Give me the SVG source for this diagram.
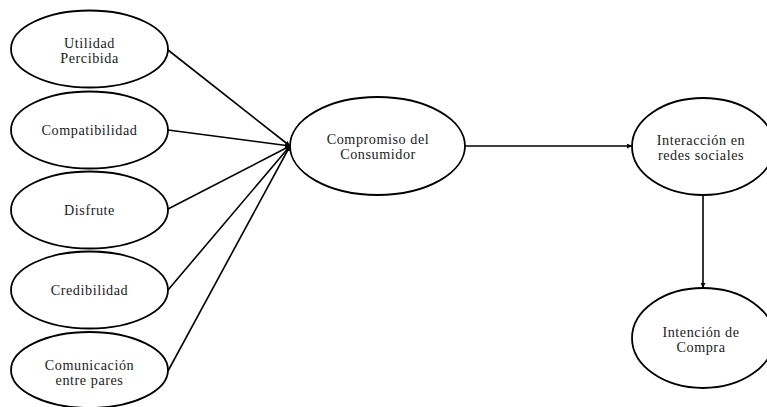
<svg xmlns="http://www.w3.org/2000/svg" width="767" height="407" viewBox="0 0 767 407">
<style>
ellipse.e{fill:#fff;stroke:#000;stroke-width:1.8}
text.t{font-family:'Liberation Serif','Times New Roman',serif;font-size:14.2px;fill:#1a1a1a;text-anchor:middle;letter-spacing:0.55px}
.c line{stroke:#000;stroke-width:1.6}
</style>
<defs>
<marker id="ah" viewBox="0 0 10 10" refX="10" refY="5" markerWidth="5" markerHeight="5" orient="auto" markerUnits="userSpaceOnUse">
<path d="M0,0 L10,5 L0,10 z" fill="#000"/>
</marker>
</defs>
<rect width="767" height="407" fill="#fff"/>
<g class="c" id="connectors">
<line x1="168" y1="50" x2="290" y2="146" marker-end="url(#ah)"/>
<line x1="168" y1="130" x2="290" y2="146" marker-end="url(#ah)"/>
<line x1="168" y1="209" x2="290" y2="146" marker-end="url(#ah)"/>
<line x1="168" y1="290" x2="290" y2="146" marker-end="url(#ah)"/>
<line x1="168" y1="371" x2="290" y2="146" marker-end="url(#ah)"/>
<line x1="465" y1="146" x2="632" y2="146" marker-end="url(#ah)"/>
<line x1="703" y1="195" x2="703" y2="288" marker-end="url(#ah)"/>
</g>
<g id="utilidad">
<ellipse class="e" cx="89.5" cy="49" rx="78.5" ry="38.5"/>
<text class="t" x="89.5" y="48">Utilidad</text>
<text class="t" x="89.5" y="62.5">Percibida</text>
</g>
<g id="compatibilidad">
<ellipse class="e" cx="89.5" cy="130" rx="78.5" ry="38.5"/>
<text class="t" x="89.5" y="135">Compatibilidad</text>
</g>
<g id="disfrute">
<ellipse class="e" cx="89.5" cy="210" rx="78.5" ry="38.5"/>
<text class="t" x="89.5" y="215">Disfrute</text>
</g>
<g id="credibilidad">
<ellipse class="e" cx="89.5" cy="290" rx="78.5" ry="38.5"/>
<text class="t" x="89.5" y="295">Credibilidad</text>
</g>
<g id="comunicacion">
<ellipse class="e" cx="89.5" cy="370" rx="78.5" ry="38"/>
<text class="t" x="89.5" y="370">Comunicación</text>
<text class="t" x="89.5" y="384.5">entre pares</text>
</g>
<g id="compromiso">
<ellipse class="e" cx="377.5" cy="146" rx="87.5" ry="49"/>
<text class="t" x="378" y="144">Compromiso del</text>
<text class="t" x="378" y="158.5">Consumidor</text>
</g>
<g id="interaccion">
<ellipse class="e" cx="703" cy="146.5" rx="71" ry="48.5"/>
<text class="t" x="701" y="145">Interacción en</text>
<text class="t" x="701" y="159.5">redes sociales</text>
</g>
<g id="intencion">
<ellipse class="e" cx="703" cy="338" rx="71" ry="50"/>
<text class="t" x="701" y="337">Intención de</text>
<text class="t" x="701" y="351.5">Compra</text>
</g>
</svg>
